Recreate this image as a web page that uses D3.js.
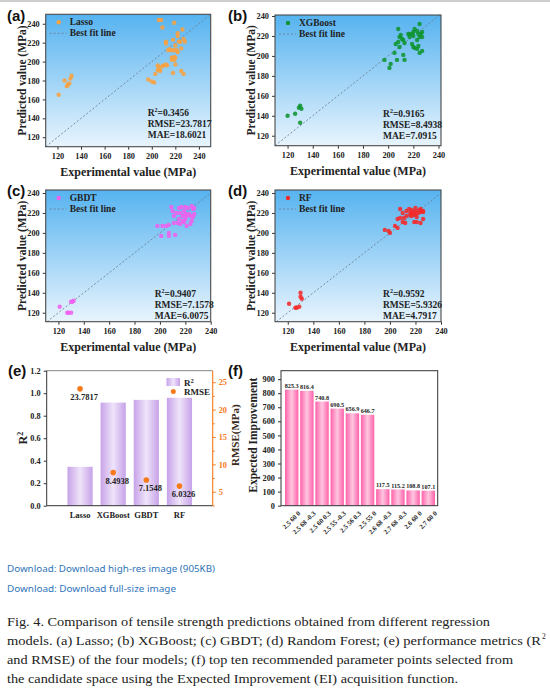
<!DOCTYPE html>
<html>
<head>
<meta charset="utf-8">
<script src="https://cdn.jsdelivr.net/npm/d3@7"></script>
<style>
  body { margin: 0; background: #fff; }
  svg { display: block; }
</style>
</head>
<body>
<svg id="fig" width="550" height="696"></svg>
<script>
// ---- data ----
const lassoX = [121, 126, 128, 130, 131, 132, 129, 206, 208, 209, 219, 226, 212, 212, 222, 222, 218, 224, 227, 228, 223, 215, 217, 219, 214, 220, 222, 221, 225, 219, 217, 220, 219, 217, 213, 212, 210, 209, 206, 205, 207, 207, 205, 203, 220, 218, 225, 227, 197, 200, 202];
const lassoY = [165, 180, 174, 177, 182, 185, 176, 244, 244, 236, 241, 234, 221, 219, 230, 227, 223, 221, 224, 221, 221, 213, 212, 212, 212, 217, 210, 212, 214, 205, 204, 204, 202, 202, 196, 197, 196, 195, 194, 196, 191, 190, 191, 187, 197, 188, 190, 187, 181, 179, 178];

const xgbX = [120, 126, 129, 130, 131, 130, 197, 201, 202, 205, 206, 208, 207, 208, 209, 210, 211, 209, 212, 213, 212, 213, 216, 217, 219, 217, 220, 220, 221, 223, 224, 225, 225, 226, 227, 227, 219, 220, 221, 223, 224, 225, 227, 223];
const xgbY = [140, 142, 148, 150, 147, 133, 196, 188, 192, 203, 212, 214, 196, 227, 219, 221, 217, 209, 201, 196, 216, 213, 222, 222, 222, 219, 220, 224, 227, 225, 222, 219, 232, 222, 224, 219, 212, 209, 208, 207, 210, 203, 205, 216];

const gbdtX = [121, 127, 128, 130, 131, 132, 130, 202, 205, 207, 198, 201, 207, 207, 212, 211, 214, 216, 218, 219, 221, 224, 225, 209, 210, 211, 213, 215, 217, 220, 222, 225, 226, 227, 219, 220, 221, 218, 216, 223, 224, 226, 227, 215, 220];
const gbdtY = [126, 120, 120, 120, 131, 132, 131, 207, 207, 208, 207, 197, 197, 200, 198, 210, 210, 209, 212, 211, 207, 209, 212, 226, 222, 217, 220, 225, 226, 226, 225, 227, 224, 225, 222, 219, 217, 217, 220, 219, 217, 216, 219, 214, 214];

const rfX = [121, 126, 127, 129, 130, 130, 131, 196, 199, 200, 204, 206, 206, 208, 210, 212, 211, 208, 210, 213, 215, 216, 217, 219, 220, 220, 223, 224, 225, 226, 221, 219, 221, 224, 226, 216, 217, 213, 218, 222, 224, 217, 220, 226];
const rfY = [129, 125, 125, 126, 140, 136, 134, 203, 202, 200, 207, 205, 214, 215, 211, 210, 215, 224, 220, 222, 224, 220, 219, 218, 222, 225, 223, 221, 222, 221, 216, 211, 211, 210, 214, 218, 217, 217, 221, 220, 224, 223, 219, 222];

const scatterNames = ["Lasso", "XGBoost", "GBDT", "RF"];
const scatterR2 = ["0.3456", "0.9165", "0.9407", "0.9592"];
const scatterRMSE = ["23.7817", "8.4938", "7.1578", "5.9326"];
const scatterMAE = ["18.6021", "7.0915", "6.0075", "4.7917"];

const models = ["Lasso", "XGBoost", "GBDT", "RF"];
const r2Values = [0.3456, 0.9165, 0.9407, 0.9592];
const rmseValues = [23.7817, 8.4938, 7.1548, 6.0326];

const eiLabels = ["2.5 60 0", "2.5 68 -0.3", "2.5 60 0.3", "2.5 55 -0.3", "2.5 56 0.3", "2.5 55 0", "2.6 68 -0.3", "2.7 68 -0.3", "2.6 60 0", "2.7 60 0"];
const eiValues = [825.3, 816.4, 740.8, 690.5, 656.9, 646.7, 117.5, 115.2, 108.8, 107.1];

const scatterTicks = [120, 140, 160, 180, 200, 220, 240];

const downloadLines = ["Download: Download high-res image (905KB)", "Download: Download full-size image"];
const captionLines = [
  "Fig. 4. Comparison of tensile strength predictions obtained from different regression",
  "models. (a) Lasso; (b) XGBoost; (c) GBDT; (d) Random Forest; (e) performance metrics (R",
  "and RMSE) of the four models; (f) top ten recommended parameter points selected from",
  "the candidate space using the Expected Improvement (EI) acquisition function."
];

// ---- drawing ----
const svg = d3.select("#fig");
const serif = "'Liberation Serif','Times New Roman',serif";
const sans = "'Liberation Sans',Arial,sans-serif";

const defs = svg.append("defs");
const sky = defs.append("linearGradient").attr("id", "sky")
  .attr("x1", 0).attr("y1", 0).attr("x2", 0).attr("y2", 1);
sky.append("stop").attr("offset", "0%").attr("stop-color", "#56b3f0");
sky.append("stop").attr("offset", "100%").attr("stop-color", "#e8f4fd");

function hGrad(id, edge, mid) {
  const g = defs.append("linearGradient").attr("id", id)
    .attr("x1", 0).attr("y1", 0).attr("x2", 1).attr("y2", 0);
  g.append("stop").attr("offset", "0%").attr("stop-color", edge);
  g.append("stop").attr("offset", "50%").attr("stop-color", mid);
  g.append("stop").attr("offset", "100%").attr("stop-color", edge);
}
hGrad("purpleBar", "#c6a2e8", "#efe4fa");
hGrad("pinkBar", "#ff62aa", "#ffc6e0");

// top rule
svg.append("rect").attr("x", 0).attr("y", 0).attr("width", 550).attr("height", 2).attr("fill", "#cfcfcf");

function styleAxis(g, color) {
  g.select(".domain").remove();
  g.selectAll(".tick line").attr("stroke", color || "#333");
  g.selectAll(".tick text")
    .attr("font-family", serif).attr("font-weight", "bold")
    .attr("font-size", 8.3).attr("fill", color || "#222");
}

function panelLabel(txt, x, y) {
  svg.append("text").attr("x", x).attr("y", y)
    .attr("font-family", sans).attr("font-weight", "bold").attr("font-size", 15)
    .attr("fill", "#111").text(txt);
}

function scatterPanel(p) {
  const x = d3.scaleLinear().domain(p.xDom).range([p.left, p.left + p.w]);
  const y = d3.scaleLinear().domain(p.yDom).range([p.top + p.h, p.top]);
  const g = svg.append("g");

  g.append("rect").attr("x", p.left).attr("y", p.top)
    .attr("width", p.w).attr("height", p.h).attr("fill", "url(#sky)");

  const lo = Math.max(p.xDom[0], p.yDom[0]);
  const hi = Math.min(p.xDom[1], p.yDom[1]);
  g.append("line")
    .attr("x1", x(lo)).attr("y1", y(lo)).attr("x2", x(hi)).attr("y2", y(hi))
    .attr("stroke", "#6f8196").attr("stroke-width", 0.9).attr("stroke-dasharray", "2,2");

  g.selectAll("circle.pt").data(d3.zip(p.xs, p.ys)).join("circle")
    .attr("class", "pt")
    .attr("cx", d => x(d[0])).attr("cy", d => y(d[1]))
    .attr("r", 2.2).attr("fill", p.color).attr("fill-opacity", 0.88);

  const xa = g.append("g").attr("transform", `translate(0,${p.top + p.h})`)
    .call(d3.axisBottom(x).tickValues(scatterTicks).tickSize(3).tickPadding(3));
  styleAxis(xa);
  const ya = g.append("g").attr("transform", `translate(${p.left},0)`)
    .call(d3.axisLeft(y).tickValues(scatterTicks).tickSize(3).tickPadding(3));
  styleAxis(ya);

  g.append("rect").attr("x", p.left).attr("y", p.top)
    .attr("width", p.w).attr("height", p.h)
    .attr("fill", "none").attr("stroke", "#4a4a4a").attr("stroke-width", 1.1);

  // legend
  g.append("circle").attr("cx", p.left + 13).attr("cy", p.top + 8)
    .attr("r", 2.2).attr("fill", p.color);
  g.append("text").attr("x", p.left + 24).attr("y", p.top + 11)
    .attr("font-family", serif).attr("font-weight", "bold").attr("font-size", 9.5)
    .attr("fill", "#222").text(p.name);
  g.append("line").attr("x1", p.left + 4).attr("x2", p.left + 21)
    .attr("y1", p.top + 19).attr("y2", p.top + 19)
    .attr("stroke", "#6f8196").attr("stroke-width", 0.9).attr("stroke-dasharray", "2,2");
  g.append("text").attr("x", p.left + 24).attr("y", p.top + 22)
    .attr("font-family", serif).attr("font-weight", "bold").attr("font-size", 9.5)
    .attr("fill", "#222").text("Best fit line");

  // metrics
  const mx = p.left + p.w - p.statsDx;
  const base = p.top + p.h - p.statsDy;
  const t1 = g.append("text").attr("x", mx).attr("y", base)
    .attr("font-family", serif).attr("font-weight", "bold").attr("font-size", 9.5).attr("fill", "#222");
  t1.append("tspan").text("R");
  t1.append("tspan").attr("dy", -3.5).attr("font-size", 6).text("2");
  t1.append("tspan").attr("dy", 3.5).text("=" + p.r2);
  g.append("text").attr("x", mx).attr("y", base + 11)
    .attr("font-family", serif).attr("font-weight", "bold").attr("font-size", 9.5).attr("fill", "#222")
    .text("RMSE=" + p.rmse);
  g.append("text").attr("x", mx).attr("y", base + 22)
    .attr("font-family", serif).attr("font-weight", "bold").attr("font-size", 9.5).attr("fill", "#222")
    .text("MAE=" + p.mae);

  // axis titles
  g.append("text")
    .attr("transform", `translate(${p.left - 20},${p.top + p.h / 2}) rotate(-90)`)
    .attr("text-anchor", "middle")
    .attr("font-family", serif).attr("font-weight", "bold").attr("font-size", 11.5)
    .attr("fill", "#222").text("Predicted value (MPa)");
  g.append("text")
    .attr("x", p.left + p.w / 2).attr("y", p.top + p.h + 29)
    .attr("text-anchor", "middle")
    .attr("font-family", serif).attr("font-weight", "bold").attr("font-size", 12)
    .attr("fill", "#222").text("Experimental value (MPa)");
}

const scatterPanels = [
  { left: 45.7, top: 14.3, w: 165, h: 132.4, xDom: [110, 250], yDom: [110, 250], xs: lassoX, ys: lassoY, color: "#f8a240", statsDx: 63, statsDy: 31 },
  { left: 275, top: 15, w: 166, h: 130.7, xDom: [110, 242], yDom: [110, 241], xs: xgbX, ys: xgbY, color: "#0f9430", statsDx: 58, statsDy: 29 },
  { left: 45.7, top: 190, w: 165, h: 131.7, xDom: [110, 240], yDom: [111, 243], xs: gbdtX, ys: gbdtY, color: "#f060ee", statsDx: 56, statsDy: 25 },
  { left: 275, top: 190, w: 166, h: 131.7, xDom: [110, 240], yDom: [111, 243], xs: rfX, ys: rfY, color: "#f42a2a", statsDx: 58, statsDy: 25 }
];
scatterPanels.forEach((p, i) => {
  p.name = scatterNames[i];
  p.r2 = scatterR2[i];
  p.rmse = scatterRMSE[i];
  p.mae = scatterMAE[i];
  scatterPanel(p);
});

panelLabel("(a)", 7, 21);
panelLabel("(b)", 228, 21);
panelLabel("(c)", 7, 196);
panelLabel("(d)", 228, 196);
panelLabel("(e)", 8, 376);
panelLabel("(f)", 228, 376);

// ---- (e) R2 / RMSE ----
(function () {
  const L = 46.7, R = 212.7, T = 370.7, B = 505.7;
  const orange = "#f77a1b";
  const x = d3.scaleBand().domain(models).range([63.5, 196]).paddingInner(0.24).paddingOuter(0.12);
  const y = d3.scaleLinear().domain([0, 1.2]).range([B, T]);
  const y2 = d3.scaleLinear().domain([2.45, 27.1]).range([B, T]);
  const g = svg.append("g");

  g.selectAll("rect.bar").data(models).join("rect")
    .attr("class", "bar")
    .attr("x", d => x(d)).attr("width", x.bandwidth())
    .attr("y", (d, i) => y(r2Values[i]))
    .attr("height", (d, i) => B - y(r2Values[i]))
    .attr("fill", "url(#purpleBar)");

  g.selectAll("circle.rm").data(models).join("circle")
    .attr("class", "rm")
    .attr("cx", d => x(d) + x.bandwidth() / 2)
    .attr("cy", (d, i) => y2(rmseValues[i]))
    .attr("r", 2.8).attr("fill", orange);

  g.selectAll("text.rml").data(models).join("text")
    .attr("class", "rml")
    .attr("x", d => x(d) + x.bandwidth() / 2 + 4)
    .attr("y", (d, i) => y2(rmseValues[i]) + 11)
    .attr("text-anchor", "middle")
    .attr("font-family", serif).attr("font-weight", "bold").attr("font-size", 8.5)
    .attr("fill", "#222")
    .text((d, i) => rmseValues[i].toFixed(4));

  const xa = g.append("g").attr("transform", `translate(0,${B})`)
    .call(d3.axisBottom(x).tickSize(0).tickPadding(6));
  styleAxis(xa);
  xa.selectAll(".tick text").attr("font-size", 8.5);

  const ya = g.append("g").attr("transform", `translate(${L},0)`)
    .call(d3.axisLeft(y).tickValues(d3.range(0, 1.21, 0.2)).tickFormat(d3.format(".1f")).tickSize(3).tickPadding(3));
  styleAxis(ya);

  const ya2 = g.append("g").attr("transform", `translate(${R},0)`)
    .call(d3.axisRight(y2).tickValues([5, 10, 15, 20, 25]).tickSize(3).tickPadding(3));
  styleAxis(ya2, orange);
  g.append("g").attr("transform", `translate(${R},0)`)
    .call(d3.axisRight(y2).tickValues([2.5, 7.5, 12.5, 17.5, 22.5]).tickSize(2).tickFormat(""))
    .call(a => { a.select(".domain").remove(); a.selectAll(".tick line").attr("stroke", orange); });

  g.append("line").attr("x1", L).attr("x2", R).attr("y1", B).attr("y2", B).attr("stroke", "#333");
  g.append("line").attr("x1", L).attr("x2", L).attr("y1", T).attr("y2", B).attr("stroke", "#333");
  g.append("line").attr("x1", L).attr("x2", R).attr("y1", T).attr("y2", T).attr("stroke", "#666").attr("stroke-width", 0.8);
  g.append("line").attr("x1", R).attr("x2", R).attr("y1", T).attr("y2", B).attr("stroke", orange).attr("stroke-width", 1.1);

  // legend
  g.append("rect").attr("x", 166.5).attr("y", 378).attr("width", 13.5).attr("height", 8).attr("fill", "url(#purpleBar)");
  const lt = g.append("text").attr("x", 184).attr("y", 386)
    .attr("font-family", serif).attr("font-weight", "bold").attr("font-size", 9).attr("fill", "#222");
  lt.append("tspan").text("R");
  lt.append("tspan").attr("dy", -3.5).attr("font-size", 6.5).text("2");
  g.append("circle").attr("cx", 173.3).attr("cy", 391.5).attr("r", 2.5).attr("fill", orange);
  g.append("text").attr("x", 184).attr("y", 395)
    .attr("font-family", serif).attr("font-weight", "bold").attr("font-size", 9).attr("fill", "#222").text("RMSE");

  const yt = g.append("text")
    .attr("transform", `translate(27,${(T + B) / 2}) rotate(-90)`)
    .attr("text-anchor", "middle")
    .attr("font-family", serif).attr("font-weight", "bold").attr("font-size", 12).attr("fill", "#222");
  yt.append("tspan").text("R");
  yt.append("tspan").attr("dy", -4).attr("font-size", 8).text("2");

  g.append("text")
    .attr("transform", `translate(239,${(T + B) / 2 - 3}) rotate(-90)`)
    .attr("text-anchor", "middle")
    .attr("font-family", serif).attr("font-weight", "bold").attr("font-size", 11).attr("fill", "#3a2a1a")
    .text("RMSE(MPa)");
})();

// ---- (f) Expected Improvement ----
(function () {
  const L = 281, R = 437.7, T = 370.7, B = 505.7;
  const x = d3.scaleBand().domain(eiLabels).range([284.1, 435.9]).paddingInner(0.12).paddingOuter(0.06);
  const y = d3.scaleLinear().domain([0, 960]).range([B, T]);
  const g = svg.append("g");

  g.selectAll("rect.bar").data(eiLabels).join("rect")
    .attr("class", "bar")
    .attr("x", d => x(d)).attr("width", x.bandwidth())
    .attr("y", (d, i) => y(eiValues[i]))
    .attr("height", (d, i) => B - y(eiValues[i]))
    .attr("fill", "url(#pinkBar)");

  g.selectAll("text.v").data(eiLabels).join("text")
    .attr("class", "v")
    .attr("x", d => x(d) + x.bandwidth() / 2)
    .attr("y", (d, i) => y(eiValues[i]) - 2)
    .attr("text-anchor", "middle")
    .attr("font-family", serif).attr("font-weight", "bold").attr("font-size", 6.2).attr("fill", "#222")
    .text((d, i) => eiValues[i].toFixed(1));

  const xa = g.append("g").attr("transform", `translate(0,${B})`)
    .call(d3.axisBottom(x).tickSize(0).tickPadding(4));
  styleAxis(xa);
  xa.selectAll(".tick text")
    .attr("font-size", 6.8)
    .attr("text-anchor", "end")
    .attr("transform", "translate(3,2) rotate(-45)");

  const ya = g.append("g").attr("transform", `translate(${L},0)`)
    .call(d3.axisLeft(y).tickValues(d3.range(0, 901, 100)).tickSize(3).tickPadding(3));
  styleAxis(ya);

  g.append("rect").attr("x", L).attr("y", T).attr("width", R - L).attr("height", B - T)
    .attr("fill", "none").attr("stroke", "#333").attr("stroke-width", 1);

  g.append("text")
    .attr("transform", `translate(257,${(T + B) / 2 - 3}) rotate(-90)`)
    .attr("text-anchor", "middle")
    .attr("font-family", serif).attr("font-weight", "bold").attr("font-size", 11.5).attr("fill", "#222")
    .text("Expected Improvement");
})();

// ---- page text below the figure ----
const dlY = [572, 592];
const dlW = [208, 169];
svg.selectAll("text.dl").data(downloadLines).join("text")
  .attr("class", "dl")
  .attr("x", 7).attr("y", (d, i) => dlY[i])
  .attr("font-family", "'Noto Sans',sans-serif").attr("font-size", 9.5)
  .attr("fill", "#2f74b8")
  .attr("textLength", (d, i) => dlW[i]).attr("lengthAdjust", "spacingAndGlyphs")
  .text(d => d);

const capY = [626, 645, 664, 683];
const capW = [483, 534, 506, 451];
svg.selectAll("text.cap").data(captionLines).join("text")
  .attr("class", "cap")
  .attr("x", 7).attr("y", (d, i) => capY[i])
  .attr("font-family", serif).attr("font-size", 13.5)
  .attr("fill", "#222")
  .attr("textLength", (d, i) => capW[i]).attr("lengthAdjust", "spacingAndGlyphs")
  .text(d => d);
svg.append("text").attr("x", 542).attr("y", 639)
  .attr("font-family", serif).attr("font-size", 7.5).attr("fill", "#222").text("2");
</script>
</body>
</html>
